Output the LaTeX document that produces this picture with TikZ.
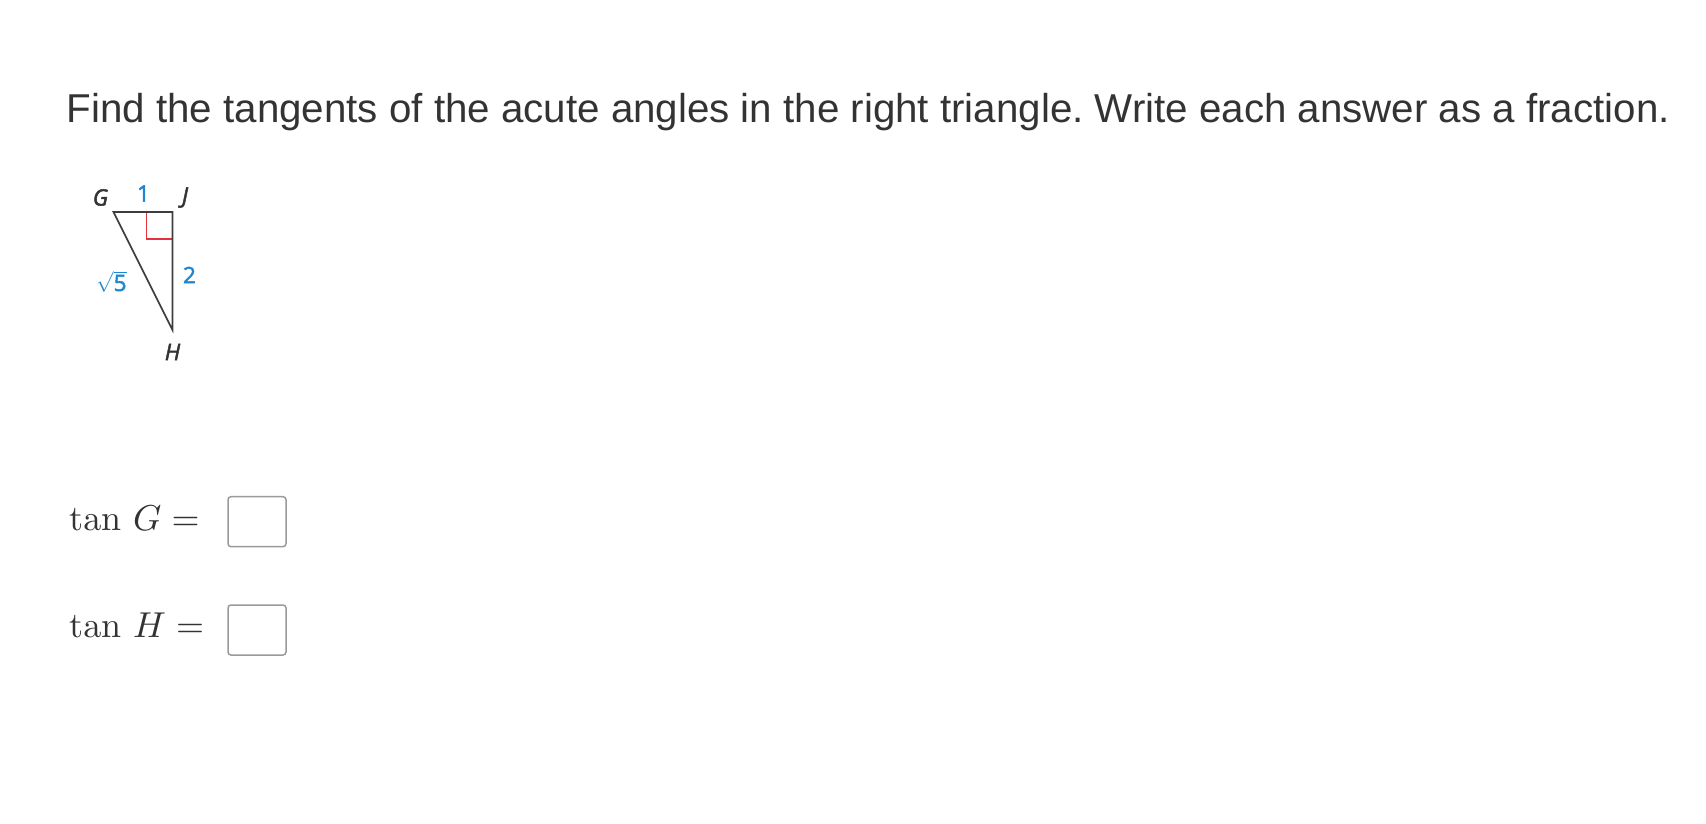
\documentclass[tikz,border=0pt]{standalone}
\usepackage{graphicx}
\usepackage[no-math]{fontspec}
\setmainfont{Liberation Sans}
\newfontfamily\lblfont[FakeBold=2.2]{Open Sans}
\definecolor{txt}{HTML}{333333}
\definecolor{lblblue}{HTML}{1F87CF}
\definecolor{markred}{HTML}{E2323C}
\definecolor{boxgray}{HTML}{9A9A9A}
\tikzset{
  side/.style={draw=txt!95, line width=1.6pt},
  vlabel/.style={font=\lblfont\fontsize{22.5}{26}\selectfont\itshape, text=txt, inner sep=0pt},
  slabel/.style={font=\lblfont\fontsize{22.5}{26}\selectfont, text=lblblue, inner sep=0pt},
  ansbox/.style={draw=boxgray, line width=1.5pt, rounded corners=3pt, minimum width=58pt, minimum height=50pt, inner sep=0pt},
  mathline/.style={font=\fontsize{10}{12}\selectfont, text=txt, inner sep=0pt, anchor=base west}
}
\begin{document}
\begin{tikzpicture}[x=1pt,y=-1pt]
\useasboundingbox (0,0) rectangle (1706,824);
\node[anchor=base west, inner sep=0pt, text=txt, font=\fontsize{40.3}{48}\selectfont] (title) at (66.5,122.3) {\frenchspacing Find the tangents of the acute angles in the right triangle. Write each answer as a fraction.};
% triangle
\coordinate (G) at (113.5,212);
\coordinate (J) at (172.5,212);
\coordinate (H) at (172.5,330);
\draw[markred, line width=1.4pt] (146.5,212) -- (146.5,239) -- (172.5,239);
\draw[side, line join=miter] (G) -- (J) -- (H) -- cycle;
\node[vlabel] (lG) at (100.5,197.5) {G};
\node[vlabel] (lJ) at (185,197.5) {J};
\node[vlabel] (lH) at (172.5,352) {H};
\node[slabel] (l1) at (143.5,193.5) {1};
\node[slabel] (l2) at (189.5,275) {2};
\node[slabel] (l5) at (111.5,282) {$\sqrt{\mbox{\lblfont\fontsize{22.5}{26}\selectfont 5}}$};
% answers
\node[mathline] (tG) at (69,530.7) {\scalebox{3.6}{$\tan\mkern3mu G =$}};
\node[ansbox] (bG) at (257,521.7) {};
\node[mathline] (tH) at (69,637.7) {\scalebox{3.6}{$\tan\mkern3mu H =$}};
\node[ansbox] (bH) at (257,630) {};
\end{tikzpicture}
\end{document}
